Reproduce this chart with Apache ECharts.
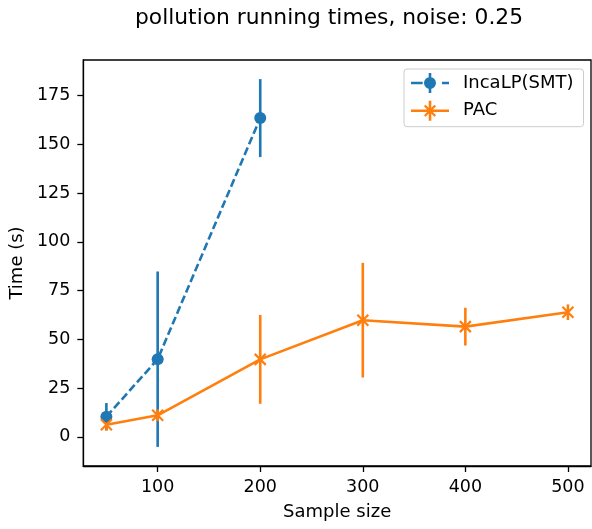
<!DOCTYPE html>
<html>
<head>
<meta charset="utf-8">
<script src="https://cdn.jsdelivr.net/npm/echarts@6/dist/echarts.min.js"></script>
<style>
  html, body { margin: 0; padding: 0; background: #fff; }
  #chart_runtimes { width: 592px; height: 529px; }
</style>
</head>
<body>
<div id="chart_runtimes"></div>
<script>
var sampleSizes = [50, 100, 200, 300, 400, 500];
var xTicks = [100, 200, 300, 400, 500];
var yTicks = [0, 25, 50, 75, 100, 125, 150, 175];

var incaX = [50, 100, 200];
var incaMean = [10.3, 39.8, 163.5];
var incaErr = [7, 45, 20];

var pacX = sampleSizes;
var pacMean = [6.2, 11.0, 39.7, 59.8, 56.5, 63.9];
var pacErr = [3, 3, 22.8, 29.4, 9.7, 4];

var blue = '#1f77b4';
var orange = '#ff7f0e';
var font = 'DejaVu Sans';

// legend icons like matplotlib's errorbar handles (38 x 20 box)
var incaIcon = 'path://M0,8.7H11.7V11.3H0Z M31,8.7H38V11.3H31Z M17.7,0H20.3V20H17.7Z ' +
  'M13,10A6,6 0 1 1 25,10A6,6 0 1 1 13,10Z';
var pacIcon = 'path://M0,8.7H38V11.3H0Z M17.7,0H20.3V20H17.7Z ' +
  'M14.53,3.97L25.03,14.47L23.47,16.03L12.97,5.53Z M25.03,5.53L14.53,16.03L12.97,14.47L23.47,3.97Z';

function points(xs, ys) {
  return xs.map(function (x, i) { return [x, ys[i]]; });
}
function errData(xs, ys, es) {
  return xs.map(function (x, i) { return [x, ys[i] - es[i], ys[i] + es[i]]; });
}
function errSeries(name, data, color) {
  return {
    name: name,
    type: 'custom',
    data: data,
    z: 2,
    silent: true,
    renderItem: function (params, api) {
      var lo = api.coord([api.value(0), api.value(1)]);
      var hi = api.coord([api.value(0), api.value(2)]);
      return {
        type: 'line',
        shape: { x1: lo[0], y1: lo[1], x2: hi[0], y2: hi[1] },
        style: { stroke: color, lineWidth: 2.6 }
      };
    }
  };
}

var myChart = echarts.init(document.getElementById('chart_runtimes'));

var option = {
  animation: false,
  textStyle: { fontFamily: font },
  title: {
    text: 'pollution running times, noise: 0.25',
    left: 130,
    top: 2,
    textStyle: { fontFamily: font, fontSize: 21.8, fontWeight: 'normal', color: '#000' }
  },
  legend: {
    orient: 'vertical',
    left: 404,
    top: 69,
    padding: [4, 10, 6, 7],
    itemGap: 7.7,
    itemWidth: 38,
    itemHeight: 20,
    borderColor: '#cccccc',
    borderWidth: 1,
    borderRadius: 3,
    itemStyle: { borderWidth: 0 },
    textStyle: { fontFamily: font, fontSize: 18, color: '#000', padding: [0, 0, 0, 9] },
    data: [
      { name: 'IncaLP(SMT)', icon: incaIcon, itemStyle: { color: blue, borderWidth: 0 } },
      { name: 'PAC', icon: pacIcon, itemStyle: { color: orange, borderWidth: 0 } }
    ]
  },
  grid: { left: 82, right: 1, top: 60, bottom: 63, show: true, borderColor: '#000', borderWidth: 1.3 },
  xAxis: {
    type: 'value',
    min: 27.5,
    max: 522.5,
    name: 'Sample size',
    nameLocation: 'middle',
    nameGap: 37,
    nameTextStyle: { fontFamily: font, fontSize: 18, color: '#000' },
    splitLine: { show: false },
    axisLine: { show: true, onZero: false, lineStyle: { color: '#000', width: 1.3 } },
    axisTick: { show: true, customValues: xTicks, length: 6, lineStyle: { color: '#000', width: 1.3 } },
    axisLabel: { customValues: xTicks, fontFamily: font, fontSize: 17.5, color: '#000', margin: 12 }
  },
  yAxis: {
    type: 'value',
    min: -15,
    max: 193.3,
    name: 'Time (s)',
    nameLocation: 'middle',
    nameGap: 55,
    nameTextStyle: { fontFamily: font, fontSize: 18, color: '#000' },
    splitLine: { show: false },
    axisLine: { show: true, onZero: false, lineStyle: { color: '#000', width: 1.3 } },
    axisTick: { show: true, customValues: yTicks, length: 6, lineStyle: { color: '#000', width: 1.3 } },
    axisLabel: { customValues: yTicks, fontFamily: font, fontSize: 17.5, color: '#000', margin: 13 }
  },
  series: [
    errSeries('IncaLP(SMT) err', errData(incaX, incaMean, incaErr), blue),
    errSeries('PAC err', errData(pacX, pacMean, pacErr), orange),
    {
      name: 'IncaLP(SMT)',
      type: 'line',
      data: points(incaX, incaMean),
      z: 3,
      symbol: 'circle',
      symbolSize: 12,
      color: blue,
      itemStyle: { color: blue },
      lineStyle: { color: blue, width: 2.6, type: [8, 3.5] }
    },
    {
      name: 'PAC',
      type: 'line',
      data: points(pacX, pacMean),
      z: 4,
      symbol: 'path://M0,0L10,10M10,0L0,10',
      symbolSize: 11,
      color: orange,
      itemStyle: { color: 'none', borderColor: orange, borderWidth: 2.2 },
      lineStyle: { color: orange, width: 2.6 }
    }
  ]
};

myChart.setOption(option);
window.addEventListener('resize', function () {
  myChart.resize();
});
</script>
</body>
</html>
